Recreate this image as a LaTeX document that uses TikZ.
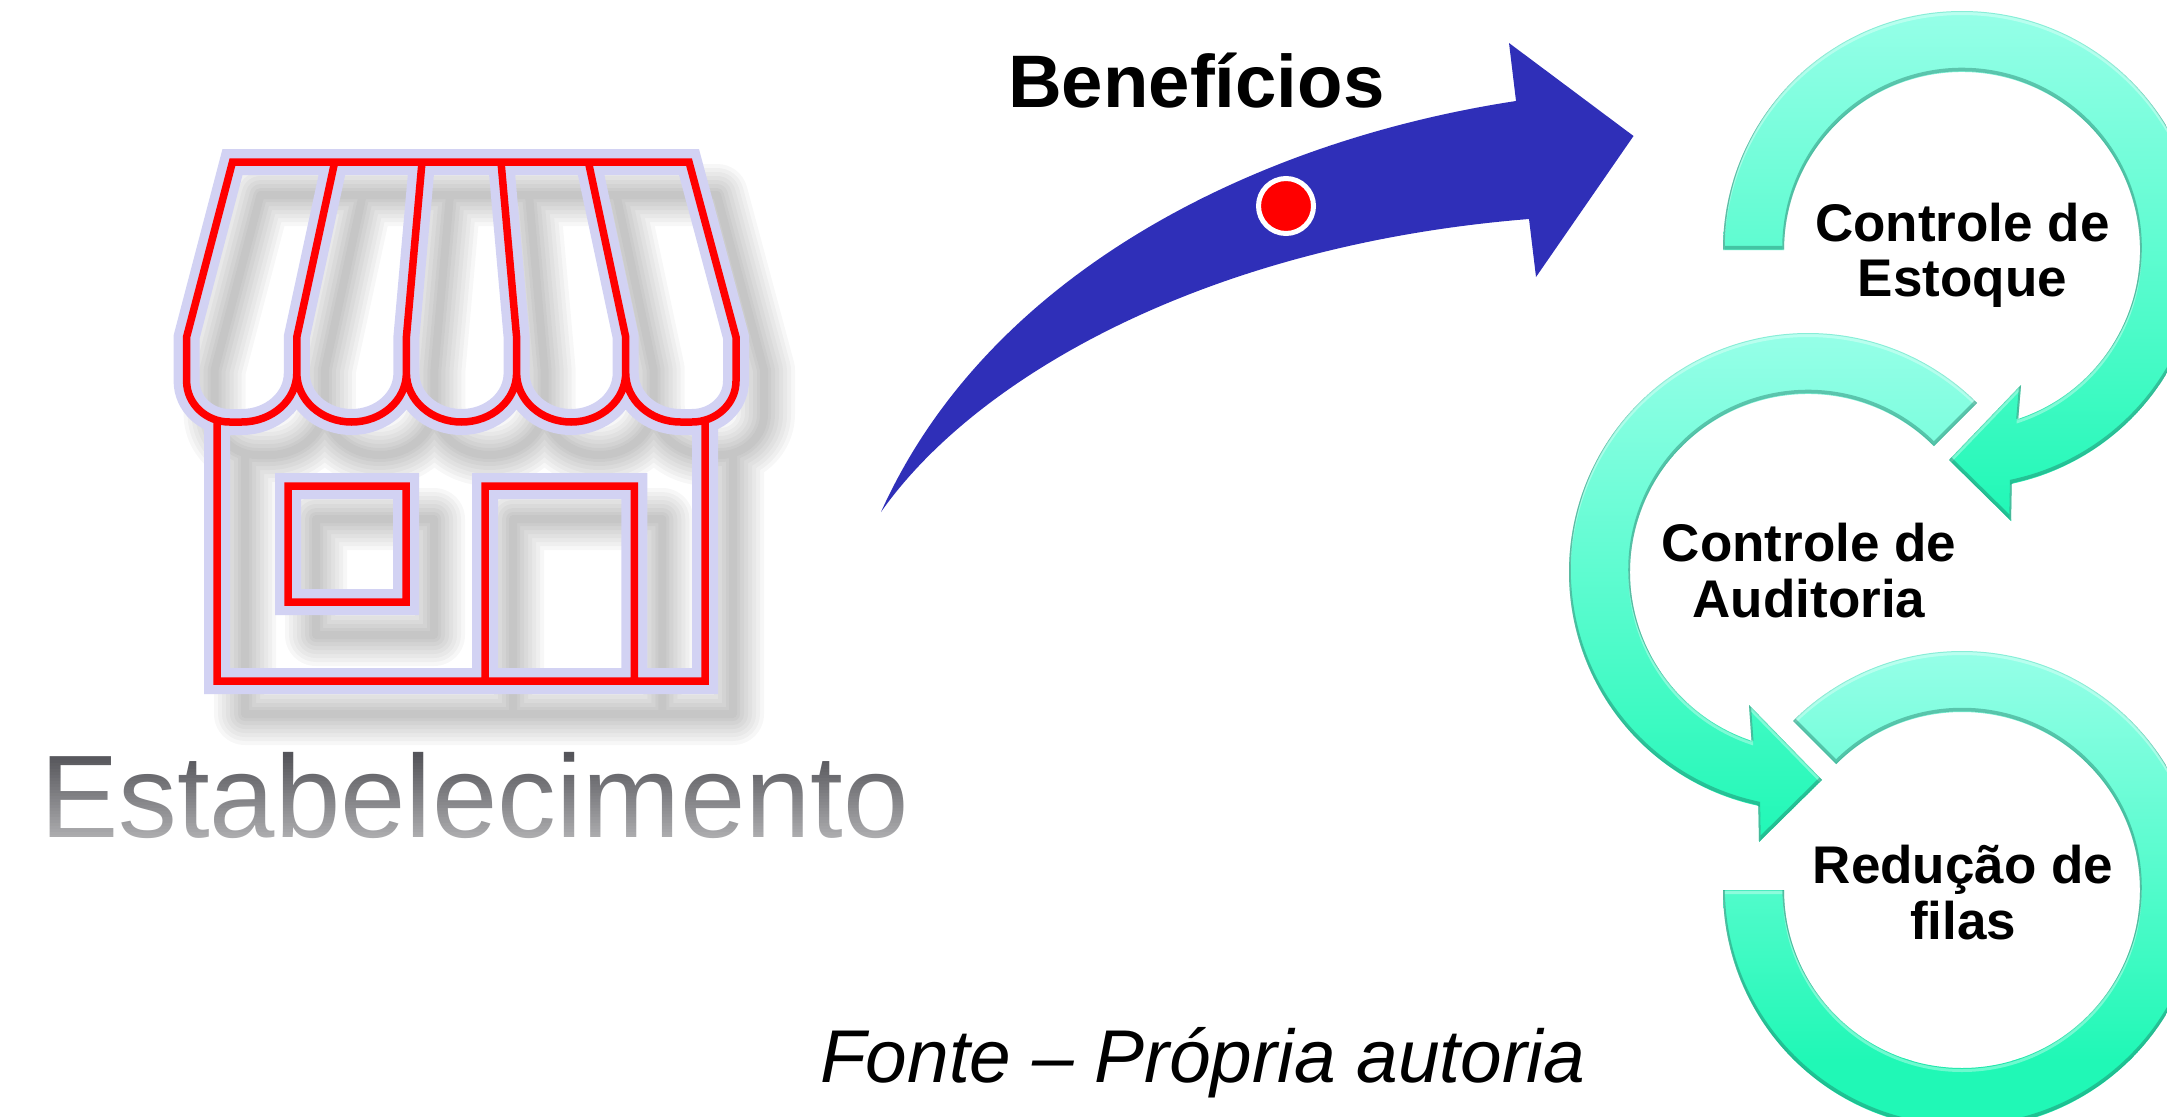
\documentclass[tikz,border=0pt]{standalone}
\usepackage{fontspec}
\setmainfont{Liberation Sans}
\usetikzlibrary{calc}
\definecolor{haloC}{RGB}{210,210,243}
\definecolor{blueC}{RGB}{47,47,184}
\definecolor{tealTop}{RGB}{150,255,232}
\definecolor{tealBot}{RGB}{32,248,182}
\definecolor{tealEdge}{RGB}{30,120,100}
\definecolor{textGray}{RGB}{85,85,90}
\tikzset{
  lbl/.style={font=\fontsize{53}{55.5}\selectfont\bfseries,align=center,anchor=base,inner sep=0pt,text=black},
}
% shop outline, in pixel coordinates
\def\ShopPath{
  (232.5,162) -- (689,162) -- (736,337) -- (736,381)
  arc[start angle=0,end angle=90,x radius=44,y radius=41] -- (680.5,422)
  arc[start angle=90,end angle=180,x radius=54.8,y radius=49]
  arc[start angle=0,end angle=180,x radius=54.55,y radius=49]
  arc[start angle=0,end angle=180,x radius=55.1,y radius=49]
  arc[start angle=0,end angle=180,x radius=54.8,y radius=49]
  arc[start angle=0,end angle=90,x radius=55.2,y radius=49] -- (229.6,422)
  arc[start angle=90,end angle=180,x radius=43,y radius=41] -- (186.6,337) -- cycle
  (334.7,162) -- (296.8,337) -- (296.8,373)
  (422,162) -- (406.4,337) -- (406.4,373)
  (501,162) -- (516.6,337) -- (516.6,373)
  (588.4,162) -- (625.7,337) -- (625.7,373)
  (217,422) -- (217,681) -- (705,681) -- (705,422)
  (288,486) rectangle (406,602)
  (485,681) -- (485,486) -- (634.3,486) -- (634.3,681)
}
% circular arrows, relative to their centres
\def\ArrowA{(180:239) arc[start angle=180,end angle=438,radius=239]
  -- (49,271) -- (-13,210) -- (59,135) -- (431.6:178)
  arc[start angle=431.6,end angle=180,radius=178] -- cycle}
\def\ArrowB{(-45:239) arc[start angle=-45,end angle=-258,radius=239]
  -- (-49,270) -- (14,208) -- (-59,133) -- (-251.5:178)
  arc[start angle=-251.5,end angle=-45,radius=178] -- cycle}
\def\ArrowC{(-135:239) arc[start angle=-135,end angle=180,radius=239]
  -- (180:178)
  arc[start angle=180,end angle=-135,radius=178] -- cycle}
\newcommand{\greenarrow}[3]{%
  \begin{scope}[shift={#1}]
    \begin{scope}
      \clip #2;
      \fill[tealBot] (-300,{#3-2}) rectangle (300,320);
      \shade[top color=tealTop,bottom color=tealBot] (-300,-240) rectangle (300,#3);
      \draw[white,opacity=.35,line width=3,shift={(0,2.5)}] #2;
      \draw[tealEdge,opacity=.42,line width=3.5,shift={(0,-2.5)}] #2;
      \draw[tealEdge,opacity=.12,line width=2] #2;
    \end{scope}
  \end{scope}}
\begin{document}
\begin{tikzpicture}[x=1pt,y=-1pt]
  \path[use as bounding box,clip] (0,0) rectangle (2167,1116);
  % shop shadow, halo and outline
  \begin{scope}[shift={(28,33)},line join=round]
    \foreach \w in {62,54,46,38,30,22,14,8}
      \draw[black,opacity=.03,line width=\w] \ShopPath;
  \end{scope}
  \draw[haloC,line width=26,line join=miter] \ShopPath;
  \draw[red,line width=7.5,line join=miter] \ShopPath;
  % shop label with a grey ramp
  \node[anchor=base west,inner sep=0pt,text=textGray,font=\fontsize{117.5}{117.5}\selectfont] (shop) at (40,837) {Estabelecimento};
  \foreach \i in {0,...,29}
    \fill[white,opacity={0.55*\i/29}] (30,{754+\i*3}) rectangle (930,{754+\i*3+3});
  \fill[white,opacity=.55] (30,844) rectangle (930,860);
  % big arrow
  \fill[blueC] (881,512) .. controls (990,270) and (1260,140) .. (1516,101)
     -- (1509,43) -- (1633.5,136) -- (1536,277) -- (1529,219)
     .. controls (1205,245) and (975,378) .. (881,512) -- cycle;
  \node[circle,fill=red,draw=white,line width=5,minimum size=55,inner sep=0pt] (dot) at (1286,206) {};
  \node[anchor=base west,inner sep=0pt,font=\fontsize{74.4}{74.4}\selectfont\bfseries] (ben) at (1008,107) {Benefícios};
  % green arrows
  \greenarrow{(1962,890)}{\ArrowC}{170}
  \greenarrow{(1808,572)}{\ArrowB}{270}
  \greenarrow{(1962,250)}{\ArrowA}{271}
  % labels
  \node[lbl] (l1) at (1962.5,296.6) {Controle de\\Estoque};
  \node[lbl] (l2) at (1809,617.4) {Controle de\\Auditoria};
  \node[lbl] (l3) at (1963,939.4) {Redução de\\filas};
  \node[anchor=base west,inner sep=0pt,font=\fontsize{74.8}{74.8}\selectfont\itshape] (src) at (820,1082) {Fonte -- Própria autoria};
\end{tikzpicture}
\end{document}
